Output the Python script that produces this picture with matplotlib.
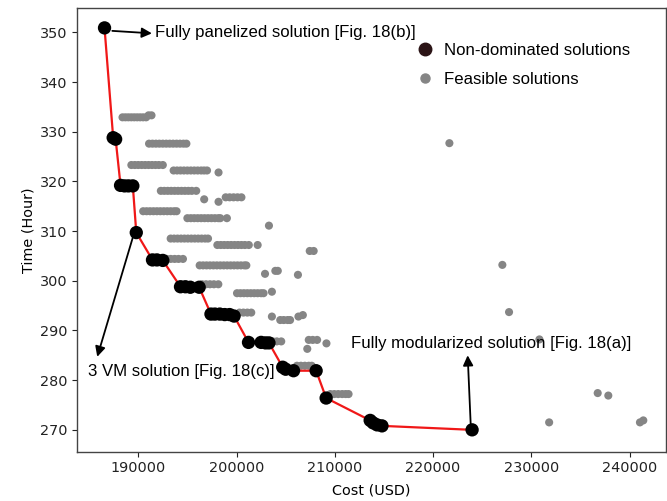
import matplotlib
matplotlib.use("Agg")
import matplotlib.pyplot as plt
from matplotlib.lines import Line2D

# Non-dominated (Pareto) solutions
pareto_cost = [186570, 187450, 187700, 188200, 188600, 189000, 189450, 189800,
               191450, 191900, 192500, 194300, 194800, 195300, 196200,
               197400, 197800, 198300, 198800, 199300, 199750,
               201220, 202500, 202950, 203300, 204700, 205000, 205800, 208100,
               209120, 213600, 213900, 214300, 214800, 223970]
pareto_time = [350.9, 328.8, 328.5, 319.2, 319.1, 319.1, 319.1, 309.7,
               304.2, 304.2, 304.1, 298.8, 298.8, 298.7, 298.7,
               293.3, 293.3, 293.3, 293.2, 293.2, 292.9,
               287.6, 287.6, 287.5, 287.5, 282.6, 282.2, 281.9, 281.9,
               276.4, 271.9, 271.4, 271.0, 270.8, 270.0]

# Feasible solutions, read row by row (time of the row, costs in that row)
row_time = [332.9, 333.3, 327.6, 323.3, 322.2, 321.8, 318.1, 316.4, 315.9, 316.8,
            314.0, 312.6, 311.1, 308.5, 307.2, 306.0, 304.4, 303.1, 301.4, 302.0,
            301.2, 299.3, 297.5, 297.8, 293.6, 292.8, 292.1, 293.1, 287.8, 288.1,
            287.4, 286.3, 282.9, 277.2,
            327.7, 303.2, 293.7, 288.2, 277.4, 276.9, 271.5, 271.9]
row_cost = [
    [188400, 188700, 189000, 189300, 189600, 189900, 190200, 190500, 190800],
    [191050, 191350],
    [191100, 191450, 191800, 192150, 192500, 192850, 193200, 193550, 193900, 194250, 194600, 194900],
    [189300, 189650, 190000, 190350, 190700, 191050, 191400, 191750, 192100, 192500],
    [193600, 193950, 194300, 194650, 195000, 195350, 195700, 196050, 196400, 196700, 197000],
    [198170],
    [192300, 192650, 193000, 193350, 193700, 194050, 194400, 194750, 195100, 195450, 195900],
    [196710],
    [198170],
    [198900, 199300, 199700, 200100, 200500],
    [190500, 190850, 191200, 191550, 191900, 192250, 192600, 192950, 193300, 193650, 193900],
    [195000, 195350, 195700, 196050, 196400, 196750, 197100, 197450, 197800, 198150, 198350, 199020],
    [203300],
    [193300, 193650, 194000, 194350, 194700, 195050, 195400, 195750, 196100, 196450, 196800, 197100],
    [198050, 198400, 198750, 199100, 199450, 199800, 200150, 200500, 200850, 201250, 202150],
    [207450, 207850],
    [192900, 193300, 193700, 194100, 194550],
    [196250, 196600, 196950, 197300, 197650, 198000, 198350, 198700, 199050, 199400,
     199750, 200100, 200450, 200800, 201000],
    [202900],
    [203950, 204200],
    [206250],
    [196500, 196900, 197300, 197700, 198150],
    [200050, 200400, 200750, 201100, 201450, 201800, 202150, 202500, 202750],
    [203600],
    [200300, 200700, 201100, 201500],
    [203600, 206300],
    [204450, 204800, 205200, 205450],
    [206750],
    [203300, 203700, 204100, 204550],
    [207350, 207750, 208200],
    [209150],
    [207200],
    [206150, 206550, 206950, 207350, 207650],
    [209550, 209950, 210350, 210750, 211100, 211400],
    [221660], [227050], [227730], [230820], [236750], [237830], [231810, 241050], [241390],
]

feasible_cost = [c for row in row_cost for c in row]
feasible_time = [t for t, row in zip(row_time, row_cost) for _ in row]

plt.rcParams['font.family'] = ['DejaVu Sans']
fig = plt.figure(figsize=(6.67, 5.01), dpi=100)
ax = fig.add_axes([0.1159, 0.0984, 0.8826, 0.8856])

gray = '#858585'
ax.scatter(feasible_cost, feasible_time, s=34, color=gray, edgecolors='none', zorder=2)
order = sorted(range(len(pareto_cost)), key=lambda i: pareto_cost[i])
ax.plot([pareto_cost[i] for i in order], [pareto_time[i] for i in order],
        color='#f01818', lw=1.6, zorder=3)
ax.scatter(pareto_cost, pareto_time, s=92, color='black', edgecolors='none', zorder=4)

ax.set_xlim(183800, 243700)
ax.set_ylim(265.6, 354.9)
ax.set_xticks([190000, 200000, 210000, 220000, 230000, 240000])
ax.set_yticks([270, 280, 290, 300, 310, 320, 330, 340, 350])
ax.tick_params(labelsize=10.4, colors='#222222')
for sp in ax.spines.values():
    sp.set_color('#444444')
    sp.set_linewidth(1.0)
ax.set_xlabel('Cost (USD)', fontsize=10.4, labelpad=6)
ax.set_ylabel('Time (Hour)', fontsize=10.4, labelpad=3)

afont = dict(family=['Liberation Sans', 'DejaVu Sans'], fontsize=12.1)
arrow = dict(arrowstyle='-|>', color='black', lw=1.3, mutation_scale=15, shrinkA=0, shrinkB=0)

ax.annotate('', xy=(191390, 349.8), xytext=(187360, 350.3), arrowprops=arrow, zorder=5)
ax.text(191730, 349.9, 'Fully panelized solution [Fig. 18(b)]', va='center', ha='left', **afont)

ax.annotate('', xy=(185830, 284.7), xytext=(189490, 309.0), arrowprops=arrow, zorder=5)
ax.text(184890, 281.8, '3 VM solution [Fig. 18(c)]', va='center', ha='left', **afont)

ax.annotate('', xy=(223520, 285.0), xytext=(223830, 271.0), arrowprops=arrow, zorder=5)
ax.text(211660, 287.4, 'Fully modularized solution [Fig. 18(a)]', va='center', ha='left', **afont)

handles = [Line2D([], [], ls='none', marker='o', markersize=9, color='#2b1416'),
           Line2D([], [], ls='none', marker='o', markersize=6.5, color=gray)]
ax.legend(handles, ['Non-dominated solutions', 'Feasible solutions'],
          loc='upper left', bbox_to_anchor=(0.548, 0.956), frameon=False,
          prop=dict(family=['Liberation Sans', 'DejaVu Sans'], size=12.1),
          labelspacing=0.85, handletextpad=0.5, handlelength=1.2)

fig.savefig('out.png', dpi=100)
